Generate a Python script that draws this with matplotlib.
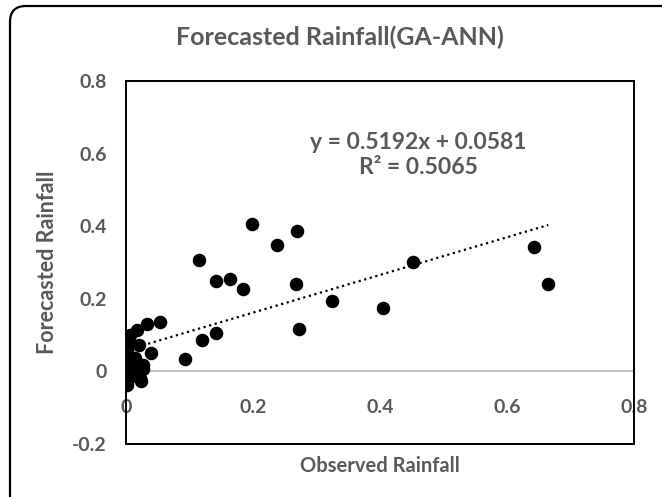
import matplotlib
matplotlib.use("Agg")
import matplotlib.pyplot as plt
import numpy as np
from matplotlib.patches import FancyBboxPatch

plt.rcParams["font.family"] = ["Lato", "DejaVu Sans"]
plt.rcParams["font.weight"] = "bold"

# valores
observed = [
    0.199, 0.269, 0.238, 0.115, 0.141, 0.163, 0.184, 0.267, 0.324, 0.405,
    0.272, 0.142, 0.120, 0.053, 0.093, 0.452, 0.643, 0.665,
    0.033, 0.017, 0.006, 0.020, 0.004, 0.039, 0.001, 0.004, 0.014, 0.001,
    0.019, 0.022, 0.004, 0.001, 0.023, 0.026, 0.027, 0.000, 0.002, 0.010,
    0.000, 0.003,
]
forecasted = [
    0.405, 0.386, 0.347, 0.308, 0.250, 0.255, 0.226, 0.242, 0.194, 0.175,
    0.118, 0.105, 0.086, 0.136, 0.035, 0.302, 0.344, 0.242,
    0.131, 0.114, 0.100, 0.073, 0.078, 0.050, 0.050, 0.027, 0.037, 0.004,
    0.004, -0.018, -0.018, -0.037, -0.026, 0.007, 0.018, 0.087, 0.060, 0.015,
    0.030, -0.005,
]
slope = 0.5192
intercept = 0.0581
r2 = 0.5065
x_ticks = [0, 0.2, 0.4, 0.6, 0.8]
x_labels = ["0", "0.2", "0.4", "0.6", "0.8"]
y_ticks = [-0.2, 0, 0.2, 0.4, 0.6, 0.8]
y_labels = ["-0.2", "0", "0.2", "0.4", "0.6", "0.8"]

gris = "#595959"

fig = plt.figure(figsize=(6.62, 4.97), dpi=100)
ax = fig.add_axes([126 / 662, 53 / 497, 508 / 662, 363 / 497])

# borde redondeado del grafico
marco = FancyBboxPatch(
    (0.10, -0.2), 6.8, 5.11,
    boxstyle="round,pad=0,rounding_size=0.16",
    transform=fig.dpi_scale_trans, fill=False,
    edgecolor="black", linewidth=1.6, zorder=0,
)
fig.patches.append(marco)

ax.scatter(observed, forecasted, s=95, color="black", zorder=3, linewidths=0)

xt = np.array([min(observed), max(observed)])
ax.plot(xt, slope * xt + intercept, color="black", linewidth=1.6,
        linestyle=(0, (1, 1.6)), zorder=2)

ax.set_xlim(0, 0.8)
ax.set_ylim(-0.2, 0.8)
ax.set_yticks(y_ticks, y_labels)
ax.set_xticks([])
ax.tick_params(axis="y", length=0, pad=14, labelsize=14, labelcolor=gris)
for lado in ["top", "right", "bottom", "left"]:
    ax.spines[lado].set_color("black")
    ax.spines[lado].set_linewidth(1.4)

# eje x en y=0
sec = ax.secondary_xaxis(0.2)
sec.set_xticks(x_ticks, x_labels)
sec.tick_params(length=0, pad=20, labelsize=14, labelcolor=gris)
sec.spines["bottom"].set_color("#bfbfbf")
sec.spines["bottom"].set_linewidth(1.4)

# titulo centrado sobre el area del grafico
fig.text(340 / 662, 1 - 37 / 497, "Forecasted Rainfall(GA-ANN)", fontsize=18,
         color=gris, fontweight="bold", ha="center", va="center")
ax.set_xlabel("Observed Rainfall", fontsize=14.5, color=gris,
              fontweight="bold", labelpad=9)
ax.set_ylabel("Forecasted Rainfall", fontsize=15.5, color=gris,
              fontweight="bold", labelpad=10)

ax.text(0.575, 0.796, f"y = {slope}x + {intercept}\nR² = {r2}",
        transform=ax.transAxes, ha="center", va="center", fontsize=16.5,
        color=gris, fontweight="bold", linespacing=1.22)

fig.savefig("out.png", dpi=100)
